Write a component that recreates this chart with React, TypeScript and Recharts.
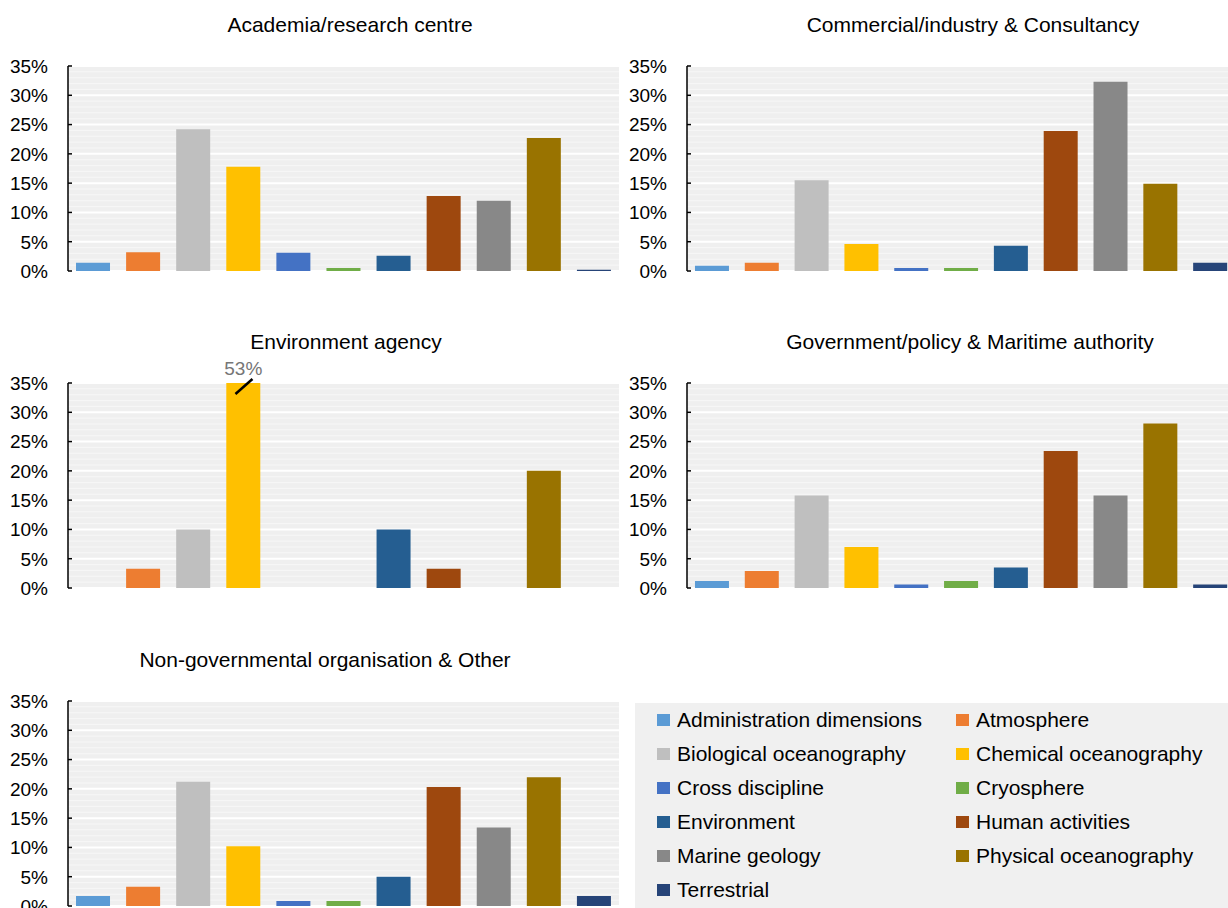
import React from 'react'
import { BarChart, Bar, Cell, XAxis, YAxis, CartesianGrid, LabelList } from 'recharts'

const categories = [
  'Administration dimensions', 'Atmosphere', 'Biological oceanography', 'Chemical oceanography',
  'Cross discipline', 'Cryosphere', 'Environment', 'Human activities',
  'Marine geology', 'Physical oceanography', 'Terrestrial',
]
const colors = [
  '#5b9bd5', '#ed7d31', '#bfbfbf', '#ffc000', '#4472c4', '#70ad47',
  '#255e91', '#9e480e', '#888888', '#997300', '#264478',
]

// shares in %, same order as categories
const academia = [1.4, 3.2, 24.2, 17.8, 3.1, 0.5, 2.6, 12.8, 12.0, 22.7, 0.2]
const commercial = [0.9, 1.4, 15.5, 4.6, 0.5, 0.5, 4.3, 23.9, 32.3, 14.9, 1.4]
const envAgency = [0, 3.3, 10, 53.3, 0, 0, 10, 3.3, 0, 20, 0]
const government = [1.2, 2.9, 15.8, 7.0, 0.6, 1.2, 3.5, 23.4, 15.8, 28.1, 0.6]
const ngo = [1.7, 3.3, 21.2, 10.2, 0.85, 0.85, 5.0, 20.3, 13.4, 22.0, 1.7]

const yMax = 35
const yTicks = [0, 5, 10, 15, 20, 25, 30, 35]
const minorTicks = [1, 2, 3, 4, 6, 7, 8, 9, 11, 12, 13, 14, 16, 17, 18, 19, 21, 22, 23, 24, 26, 27, 28, 29, 31, 32, 33, 34]

const FONT = '"Liberation Sans", Arial, sans-serif'
const AXIS_W = 60
const TOP_PAD = 30
const BOTTOM_PAD = 16
const PLOT_H = 205

const YTick = ({ x, y, payload }: any) => (
  <g>
    <line x1={x + 20} x2={x + 24} y1={y} y2={y} stroke="#000" strokeWidth={1.5} />
    <text x={x} y={y} dy="0.36em" textAnchor="end" fontSize={19} fontFamily={FONT} fill="#000">
      {payload.value}%
    </text>
  </g>
)

// marks a bar that runs past the axis maximum
const OverflowLabel = (props: any) => {
  const { x, y, width, height, value } = props
  if (value == null || value <= yMax) return null
  const bottom = y + height
  const top = bottom - height * (yMax / value)
  return (
    <g>
      <text x={x + width / 2} y={top - 8} textAnchor="middle" fontSize={19} fontFamily={FONT} fill="#767676">
        {Math.round(value)}%
      </text>
      <line x1={x + width * 0.27} y1={top + 11} x2={x + width * 0.77} y2={top - 4} stroke="#000" strokeWidth={2.5} />
    </g>
  )
}

// minor grid rows, placed proportionally inside the plot area
const minorRows = ({ offset }: any) =>
  minorTicks.map((v) => offset.top + offset.height * (1 - v / yMax))

interface PanelProps {
  title: string
  values: number[]
  axisX: number
  plotTop: number
  plotW: number
  titleCx: number
  titleCy: number
}

function Panel({ title, values, axisX, plotTop, plotW, titleCx, titleCy }: PanelProps) {
  const data = categories.map((c, i) => ({ name: c, value: values[i] }))
  return (
    <>
      <div style={{ position: 'absolute', left: axisX - AXIS_W, top: plotTop - TOP_PAD }}>
        <BarChart
          width={AXIS_W + plotW + 2}
          height={TOP_PAD + PLOT_H + BOTTOM_PAD}
          data={data}
          margin={{ top: TOP_PAD, right: 2, bottom: BOTTOM_PAD, left: 0 }}
          barCategoryGap="16%"
        >
          <CartesianGrid
            vertical={false}
            fill="#efefef"
            stroke="#f7f7f7"
            strokeWidth={1}
            horizontalCoordinatesGenerator={minorRows}
          />
          <CartesianGrid vertical={false} stroke="#ffffff" strokeWidth={2} />
          <XAxis dataKey="name" hide />
          <YAxis
            width={AXIS_W}
            domain={[0, yMax]}
            ticks={yTicks}
            allowDataOverflow
            interval={0}
            tickSize={0}
            tickMargin={20}
            axisLine={{ stroke: '#000', strokeWidth: 1.5 }}
            tick={<YTick />}
          />
          <Bar dataKey="value" isAnimationActive={false}>
            {data.map((d, i) => (
              <Cell key={d.name} fill={colors[i]} />
            ))}
            <LabelList dataKey="value" content={<OverflowLabel />} />
          </Bar>
        </BarChart>
      </div>
      <div
        style={{
          position: 'absolute',
          left: titleCx - 300,
          width: 600,
          top: titleCy - 13,
          height: 26,
          lineHeight: '26px',
          textAlign: 'center',
          fontFamily: FONT,
          fontSize: 21,
          color: '#000',
          whiteSpace: 'nowrap',
        }}
      >
        {title}
      </div>
    </>
  )
}

function LegendBox() {
  return (
    <div
      style={{
        position: 'absolute',
        left: 635,
        top: 703,
        width: 593,
        height: 205,
        background: '#f0f0f0',
        fontFamily: FONT,
        fontSize: 21,
        color: '#000',
      }}
    >
      {categories.map((c, i) => (
        <div
          key={c}
          style={{
            position: 'absolute',
            left: 22 + (i % 2) * 299,
            top: Math.floor(i / 2) * 34,
            height: 34,
            display: 'flex',
            alignItems: 'center',
            whiteSpace: 'nowrap',
          }}
        >
          <span style={{ width: 13, height: 12, background: colors[i], marginRight: 7, display: 'inline-block' }} />
          {c}
        </div>
      ))}
    </div>
  )
}

export default function App() {
  return (
    <div
      style={{
        position: 'absolute',
        left: 0,
        top: 0,
        width: 1228,
        height: 908,
        overflow: 'hidden',
        background: '#fff',
      }}
    >
      <Panel title="Academia/research centre" values={academia} axisX={67.5} plotTop={66} plotW={551} titleCx={350} titleCy={25} />
      <Panel title="Commercial/industry & Consultancy" values={commercial} axisX={686.5} plotTop={66} plotW={548} titleCx={973} titleCy={25} />
      <Panel title="Environment agency" values={envAgency} axisX={67.5} plotTop={383} plotW={551} titleCx={346} titleCy={342} />
      <Panel title="Government/policy & Maritime authority" values={government} axisX={686.5} plotTop={383} plotW={548} titleCx={970} titleCy={342} />
      <Panel title="Non-governmental organisation & Other" values={ngo} axisX={67.5} plotTop={701} plotW={551} titleCx={325} titleCy={660} />
      <LegendBox />
    </div>
  )
}
